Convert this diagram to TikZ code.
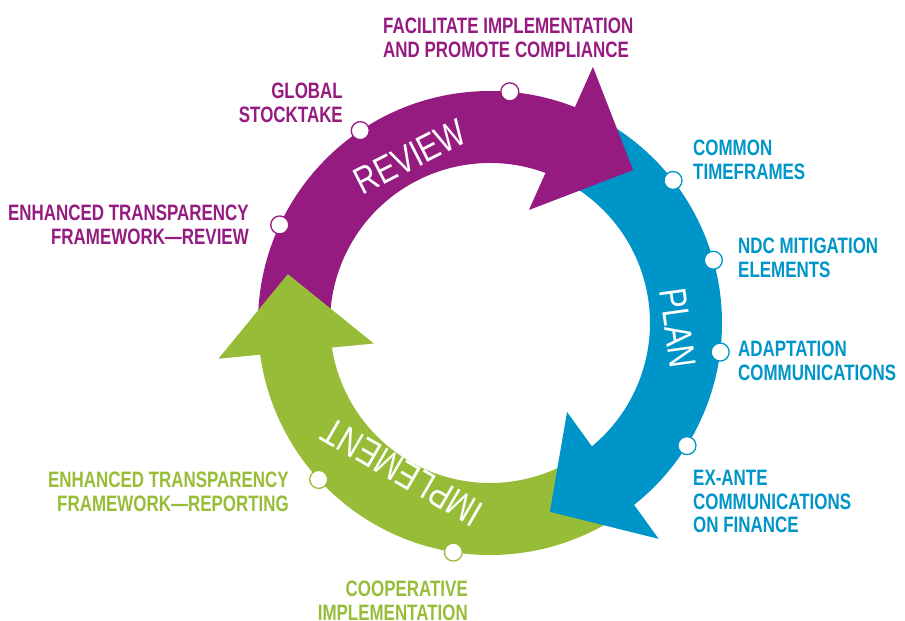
\documentclass[tikz,border=0pt]{standalone}
\usepackage{fontspec}
\newfontfamily\labelfont[FakeStretch=0.76,Ligatures=TeX]{Liberation Sans}
\newfontfamily\ringfont[FakeStretch=0.8]{Liberation Sans}
\definecolor{cPurple}{HTML}{951B81}
\definecolor{cBlue}{HTML}{0095C8}
\definecolor{cGreen}{HTML}{97BD38}
\begin{document}
\begin{tikzpicture}[x=1pt,y=-1pt,
  lbl/.style={font=\labelfont\bfseries\fontsize{22.3}{23.5}\selectfont, inner sep=0pt},
  ringtxt/.style={font=\ringfont\fontsize{38}{40}\selectfont, text=white, inner sep=0pt},
  dot/.style={circle, fill=white, draw=#1, line width=1.3pt, minimum size=18pt, inner sep=0pt}]
\useasboundingbox (0,0) rectangle (905,621);
\begin{scope}[shift={(490,323)}, yscale=-1]
  % bodies
  \fill[cPurple] (183:232) arc[start angle=183, end angle=67.5, radius=232]
     -- (67.5:160) arc[start angle=67.5, end angle=183, radius=160] -- cycle;
  \fill[cBlue] (60:232) arc[start angle=60, end angle=-52, radius=232]
     -- (-52:160) arc[start angle=-52, end angle=60, radius=160] -- cycle;
  \fill[cGreen] (-58:232) arc[start angle=-58, end angle=-173, radius=232]
     -- (-173:160) arc[start angle=-173, end angle=-58, radius=160] -- cycle;
  % heads
  \fill[cPurple] (68.1:276) -- (46.9:209.4) -- (71:119.5) -- cycle;
  \fill[cBlue] (-52:274) -- (-72.4:198) -- (-49.1:117.7) -- cycle;
  \fill[cGreen] (187.5:274) -- (166.4:208) -- (190:118) -- cycle;
  % dots
  \node[dot=cPurple] (d1) at (85.1:232) {};
  \node[dot=cPurple] (d2) at (124:232) {};
  \node[dot=cPurple] (d3) at (155:232) {};
  \node[dot=cBlue] (d4) at (37.9:232) {};
  \node[dot=cBlue] (d5) at (15.7:232) {};
  \node[dot=cBlue] (d6) at (-7.2:232) {};
  \node[dot=cBlue] (d7) at (-31.9:232) {};
  \node[dot=cGreen] (d8) at (-99.1:232) {};
  \node[dot=cGreen] (d9) at (-137.6:232) {};
\end{scope}
% ring texts
\node[ringtxt, rotate=27] (review) at (410,157) {REVIEW};
\node[ringtxt, rotate=-82] (plan) at (678,328) {PLAN};
\node[ringtxt, rotate=150] (impl) at (402,472) {IMPLEMENT};
% labels
\node[lbl, text=cPurple, anchor=north west, align=left] (facil) at (383,18) {FACILITATE IMPLEMENTATION\\AND PROMOTE COMPLIANCE};
\node[lbl, text=cPurple, anchor=north east, align=right] (gst) at (343,83) {GLOBAL\\STOCKTAKE};
\node[lbl, text=cPurple, anchor=north east, align=right] (etfr) at (249,205) {ENHANCED TRANSPARENCY\\FRAMEWORK—REVIEW};
\node[lbl, text=cBlue, anchor=north west, align=left] (ctf) at (693,140) {COMMON\\TIMEFRAMES};
\node[lbl, text=cBlue, anchor=north west, align=left] (ndc) at (738,238) {NDC MITIGATION\\ELEMENTS};
\node[lbl, text=cBlue, anchor=north west, align=left] (adapt) at (738,341) {ADAPTATION\\COMMUNICATIONS};
\node[lbl, text=cBlue, anchor=north west, align=left] (exante) at (693,470) {EX-ANTE\\COMMUNICATIONS\\ON FINANCE};
\node[lbl, text=cGreen, anchor=north east, align=right] (etfrep) at (289,472) {ENHANCED TRANSPARENCY\\FRAMEWORK—REPORTING};
\node[lbl, text=cGreen, anchor=north east, align=right] (coop) at (468,581) {COOPERATIVE\\IMPLEMENTATION};
\end{tikzpicture}
\end{document}
